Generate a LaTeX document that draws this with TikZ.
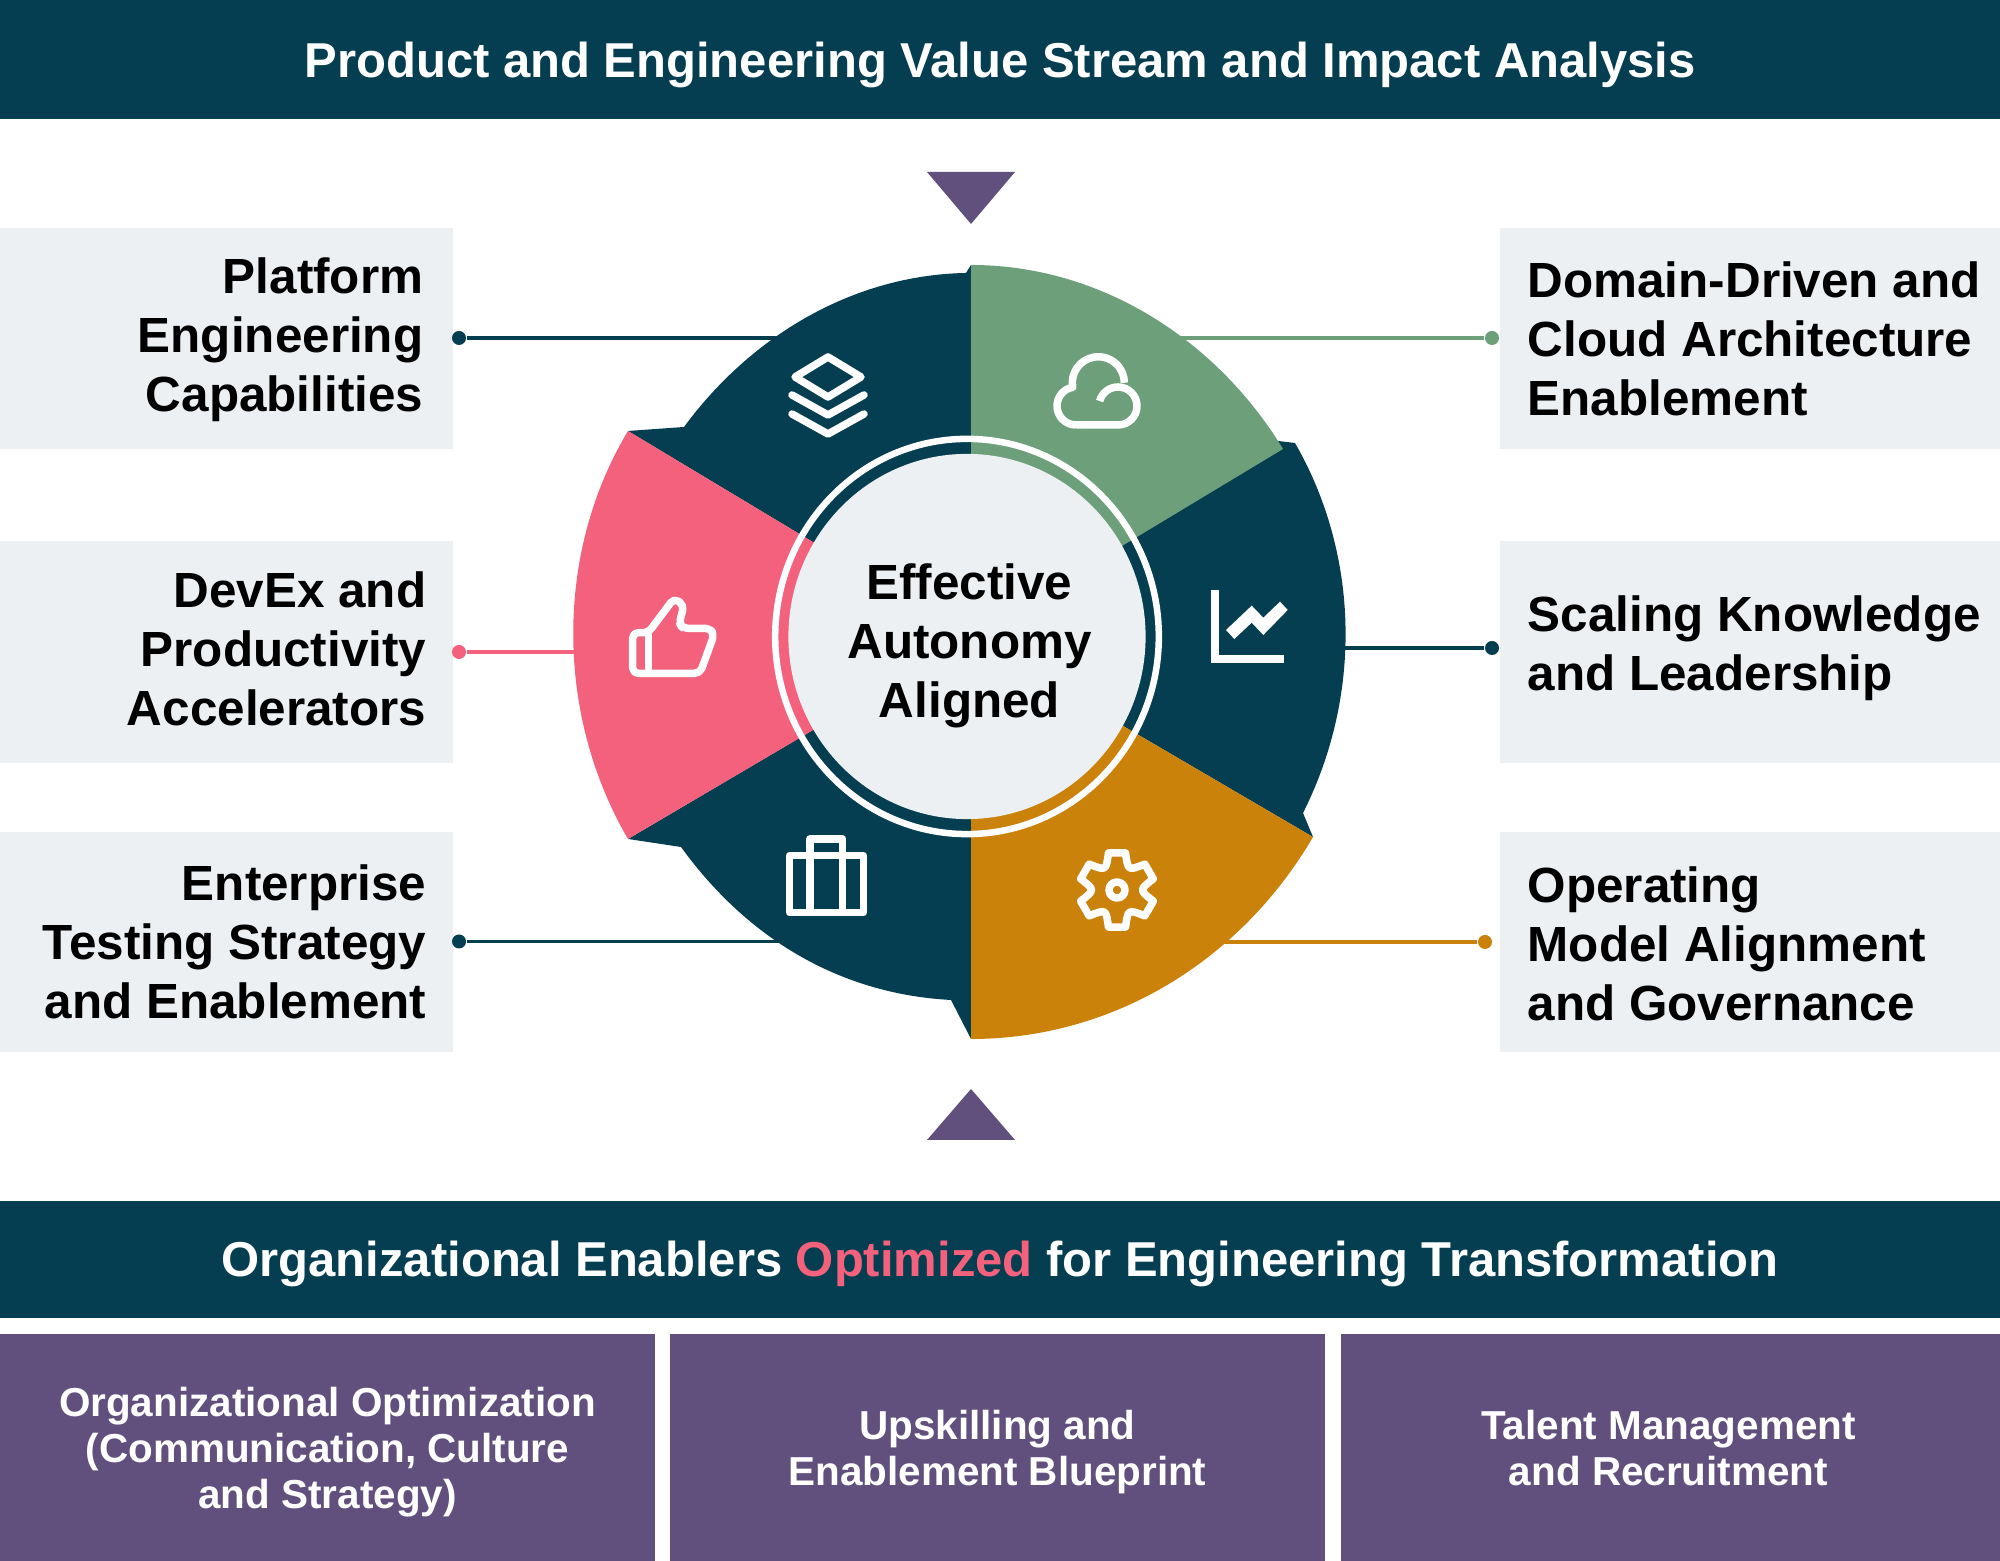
\documentclass[tikz,border=0pt]{standalone}
\usepackage{fontspec}
\setmainfont{Liberation Sans}
\usetikzlibrary{shapes.geometric}
\definecolor{navy}{RGB}{4,62,80}
\definecolor{sage}{RGB}{108,159,122}
\definecolor{rose}{RGB}{243,97,124}
\definecolor{amber}{RGB}{203,130,10}
\definecolor{plum}{RGB}{97,80,125}
\definecolor{mist}{RGB}{236,240,243}
\tikzset{
  bigtext/.style={font=\fontsize{14.05}{16.8}\selectfont\bfseries, inner sep=0pt},
  smalltext/.style={font=\fontsize{11.5}{13.1}\selectfont\bfseries, text=white, align=center, inner sep=0pt},
  bar/.style={fill=navy, text=white, font=\fontsize{13.93}{16.8}\selectfont\bfseries, minimum width=20cm, inner sep=0pt, outer sep=0pt},
  leftbox/.style={fill=mist, minimum width=4.53cm, inner sep=0pt, outer sep=0pt},
  rightbox/.style={fill=mist, minimum width=5cm, inner sep=0pt, outer sep=0pt},
  footbox/.style={fill=plum, minimum height=2.27cm, inner sep=0pt, outer sep=0pt},
  dot/.style={circle, inner sep=0pt, minimum size=0.14cm},
  icon/.style={draw=white, line width=0.075cm, line join=round},
}
\begin{document}
\begin{tikzpicture}[x=0.01cm,y=0.01cm]
  \useasboundingbox (0,0) rectangle (2000,1561);
  % bars
  \node (topbar) [bar, minimum height=1.19cm, text height=13pt, text depth=2.9pt] at (1000,1501.5) {Product and Engineering Value Stream and Impact Analysis};
  \node (midbar) [bar, minimum height=1.17cm, text height=12.3pt, text depth=2.9pt] at (1000,301.5) {Organizational Enablers \textcolor{rose}{Optimized} for Engineering Transformation};
  \node (foota) [footbox, minimum width=6.55cm] at (327.5,113.5) {};
  \node (footb) [footbox, minimum width=6.55cm] at (997.5,113.5) {};
  \node (footc) [footbox, minimum width=6.59cm] at (1670.5,113.5) {};
  \node (footatext) [smalltext] at (327.5,108.5) {Organizational Optimization\\(Communication, Culture\\and Strategy)};
  \node (footbtext) [smalltext] at (997.5,108.5) {Upskilling and\\Enablement Blueprint};
  \node (footctext) [smalltext] at (1668.5,113) {Talent Management\\and Recruitment};
  % side boxes
  \node (platform) [leftbox, minimum height=2.21cm] at (226.5,1222.5) {};
  \node (devex) [leftbox, minimum height=2.22cm] at (226.5,909) {};
  \node (testing) [leftbox, minimum height=2.2cm] at (226.5,619) {};
  \node (domain) [rightbox, minimum height=2.21cm] at (1750,1222.5) {};
  \node (scaling) [rightbox, minimum height=2.22cm] at (1750,909) {};
  \node (operating) [rightbox, minimum height=2.2cm] at (1750,619) {};
  \node (platformtext) [bigtext, align=right, anchor=east] at (424,1221) {Platform\\Engineering\\Capabilities};
  \node (devextext) [bigtext, align=right, anchor=east] at (427,912.5) {DevEx and\\Productivity\\Accelerators};
  \node (testingtext) [bigtext, align=right, anchor=east] at (427,619) {Enterprise\\Testing Strategy\\and Enablement};
  \node (domaintext) [bigtext, align=left, anchor=west] at (1527,1222.5) {Domain-Driven and\\Cloud Architecture\\Enablement};
  \node (scalingtext) [bigtext, align=left, anchor=west] at (1527,913) {Scaling Knowledge\\and Leadership};
  \node (operatingtext) [bigtext, align=left, anchor=west] at (1527,617.5) {Operating\\Model Alignment\\and Governance};
  % dots and connectors
  \node (dotplatform) [dot, fill=navy] at (459,1223) {};
  \node (dotdevex) [dot, fill=rose] at (459,909) {};
  \node (dottesting) [dot, fill=navy] at (459,619.5) {};
  \node (dotdomain) [dot, fill=sage] at (1492,1223) {};
  \node (dotscaling) [dot, fill=navy] at (1492,913) {};
  \node (dotoperating) [dot, fill=amber] at (1485,619) {};
  \coordinate (endplatform) at (790,1223);
  \coordinate (enddevex) at (590,909);
  \coordinate (endtesting) at (790,619.5);
  \coordinate (enddomain) at (1170,1223);
  \coordinate (endscaling) at (1330,913);
  \coordinate (endoperating) at (1215,619);
  \draw[navy, line width=0.033cm] (dotplatform) -- (endplatform);
  \draw[rose, line width=0.033cm] (dotdevex) -- (enddevex);
  \draw[navy, line width=0.033cm] (dottesting) -- (endtesting);
  \draw[sage, line width=0.033cm] (dotdomain) -- (enddomain);
  \draw[navy, line width=0.033cm] (dotscaling) -- (endscaling);
  \draw[amber, line width=0.033cm] (dotoperating) -- (endoperating);
  % wheel
  \fill[navy] (971,924) -- (1278,1120) -- (1295,1118) .. controls (1360,1005) and (1362,865) .. (1303,748) -- (1313,724) -- cycle;
  \fill[navy] (971,1296) -- (966,1288) .. controls (853,1286) and (751,1225) .. (684,1134) -- (628,1130) -- (971,924) -- cycle;
  \fill[sage] (971,1296) .. controls (1100,1296) and (1216,1222) .. (1283,1112) -- (971,924) -- cycle;
  \fill[navy] (971,522) -- (951,561) .. controls (839,567) and (747,623) .. (681,714) -- (628,722) -- (971,924) -- cycle;
  \fill[rose] (628,1130) .. controls (554,1007) and (556,845) .. (628,722) -- (971,924) -- cycle;
  \fill[amber] (971,522) .. controls (1114,522) and (1241,601) .. (1313,724) -- (971,924) -- cycle;
  \node (ring) [ellipse, draw=white, line width=0.065cm, minimum width=3.834cm, minimum height=3.95cm, inner sep=0pt, outer sep=0pt] at (967,924.5) {};
  \node (hub) [ellipse, fill=mist, minimum width=3.57cm, minimum height=3.65cm, inner sep=0pt, outer sep=0pt] at (967,924.5) {};
  \node (hubtext) [bigtext, align=center] at (969.5,915) {Effective\\Autonomy\\Aligned};
  % triangles
  \fill[plum] (927,1389) -- (1015,1389) -- (971,1337) -- cycle;
  \fill[plum] (927,421) -- (1015,421) -- (971,472) -- cycle;
  % layers
  \draw[icon] (795,1184) -- (828,1204) -- (861,1184) -- (828,1164) -- cycle;
  \draw[icon, line cap=round] (792,1166) -- (828,1146) -- (864,1166);
  \draw[icon, line cap=round] (792,1147) -- (828,1127) -- (864,1147);
  % cloud
  \draw[icon] (1076,1136) -- (1118,1136) arc[start angle=-90, end angle=165, radius=19];
  \draw[icon] (1076,1136) arc[start angle=270, end angle=100, radius=19] arc[start angle=190, end angle=0, radius=26];
  % thumb
  \draw[icon, rounded corners=1.5pt] (632.7,928.3) -- (648.3,928.3) -- (674,962.7) -- (684,956) -- (679.3,937.7) -- (682.7,932.7) -- (710,932.7) -- (714,926) -- (700,887.7) -- (632.7,887.7) -- cycle;
  \draw[icon] (648.3,928.3) -- (648.3,887.7);
  % chart
  \draw[icon, line width=0.083cm, line join=miter] (1214.8,971.3) -- (1214.8,902) -- (1284,902);
  \fill[white] (1226,931) -- (1251.7,955.3) -- (1263.3,943.3) -- (1280,959.3) -- (1287.7,951) -- (1263.3,926) -- (1251.7,938.3) -- (1234.3,922) -- cycle;
  % case
  \draw[icon] (789.7,705.3) rectangle (863.3,648.3);
  \draw[icon] (810,648.3) -- (810,722) -- (842.7,722) -- (842.7,648.3);
  % gear
  \begin{scope}[shift={(1117,671)}]
    \draw[icon] (43:38) \foreach \a in {30,90,150,210,270,330} { .. controls (\a+30:22) .. (\a+47:38) -- (\a+73:38) } -- cycle;
    \draw[icon] (0,0) circle (8);
  \end{scope}
\end{tikzpicture}
\end{document}
